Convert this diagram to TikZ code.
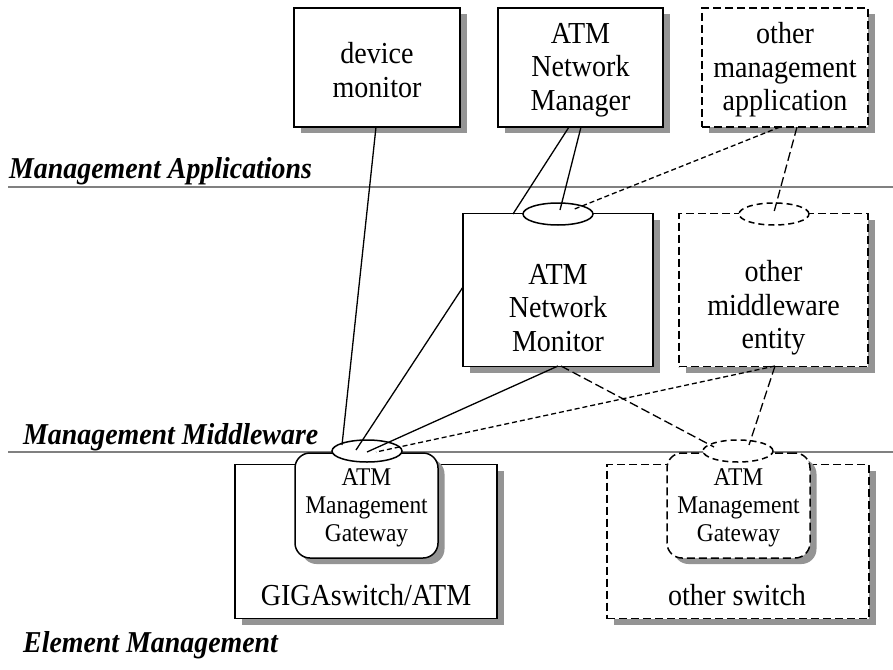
\documentclass[tikz,border=0pt]{standalone}
\usepackage{fontspec}
\setmainfont[FakeStretch=0.92]{Liberation Serif}
\usetikzlibrary{shapes.geometric,shadows}
\begin{document}
\begin{tikzpicture}[x=1pt,y=-1pt,
  shad/.style={drop shadow={shadow xshift=6.5pt,shadow yshift=-6pt,fill=black!42,opacity=1}},
  box/.style={draw,line width=1.5pt,fill=white,inner sep=0pt,shad},
  dbox/.style={box,dash pattern=on 8pt off 4pt},
  oval/.style={ellipse,draw,line width=1.5pt,fill=white,inner sep=0pt,minimum width=70pt,minimum height=22pt},
  doval/.style={oval,dash pattern=on 6pt off 4pt},
  sep/.style={draw=black!50,line width=1.5pt},
  txt/.style={align=center,font=\fontsize{30.5}{33.5}\selectfont,inner sep=0pt},
  gtxt/.style={align=center,font=\fontsize{25.5}{28}\selectfont,inner sep=0pt},
  lbl/.style={anchor=base west,font=\fontsize{30.3}{33}\selectfont\bfseries\itshape,inner sep=0pt},
  con/.style={line width=1.3pt},
  sdash/.style={con,dash pattern=on 5pt off 3pt},
  ldash/.style={con,dash pattern=on 9pt off 4pt}
]
\useasboundingbox[fill=white] (0,0) rectangle (893,669);

% separators
\coordinate (s1a) at (8,187); \coordinate (s1b) at (893,187);
\coordinate (s2a) at (8,452); \coordinate (s2b) at (893,452);
\draw[sep] (s1a) -- (s1b);
\draw[sep] (s2a) -- (s2b);

% layer labels
\node[lbl] (lapp) at (9,178) {Management Applications};
\node[lbl] (lmid) at (23,444) {Management Middleware};
\node[lbl] (lele) at (23,652) {Element Management};

% element layer
\node[box,minimum width=262pt,minimum height=154pt] (gsw) at (366,541.5) {};
\node[dbox,minimum width=262pt,minimum height=154pt] (osw) at (738,541.5) {};
\node[txt] (gswt) at (366,595) {GIGAswitch/ATM};
\node[txt] (oswt) at (737,595) {other switch};
\node[box,rounded corners=15pt,minimum width=143pt,minimum height=105pt] (gw1) at (366.5,505.5) {};
\node[dbox,rounded corners=15pt,minimum width=143pt,minimum height=105pt] (gw2) at (738.5,505.5) {};
\node[gtxt] (gw1t) at (366.5,508) {ATM\\Management\\Gateway};
\node[gtxt] (gw2t) at (738.5,508) {ATM\\Management\\Gateway};

% middleware layer
\node[box,minimum width=190pt,minimum height=153pt] (mon) at (558,290) {};
\node[dbox,minimum width=189pt,minimum height=153pt] (ome) at (773.5,290) {};
\node[txt] (mont) at (558,308) {ATM\\Network\\Monitor};
\node[txt] (omet) at (773.5,308) {other\\middleware\\entity};

% application layer
\node[box,minimum width=166pt,minimum height=119pt] (dm) at (377,67.5) {};
\node[box,minimum width=165pt,minimum height=119pt] (nm) at (580.5,67.5) {};
\node[dbox,minimum width=166pt,minimum height=119pt] (oma) at (785,67.5) {};
\node[txt] (dmt) at (377,70) {device\\monitor};
\node[txt] (nmt) at (580.5,70) {ATM\\Network\\Manager};
\node[txt] (omat) at (785,70) {other\\management\\application};

% interface ovals
\node[oval] (e1) at (558,214) {};
\node[doval] (e2) at (774,214) {};
\node[oval] (e3) at (367,451) {};
\node[doval] (e4) at (738,451) {};

% connector end points
\coordinate (dmB) at (376,127);
\coordinate (nmB1) at (569,127);
\coordinate (nmB2) at (581,127);
\coordinate (omaB1) at (780,127);
\coordinate (omaB2) at (797,127);
\coordinate (monTL) at (513,214);
\coordinate (monL) at (463,287);
\coordinate (monB) at (558,366);
\coordinate (monB2) at (561,366);
\coordinate (omeB) at (775,366);
\coordinate (e1a) at (560,210);
\coordinate (e1b) at (572,210);
\coordinate (e2a) at (774,212);
\coordinate (e3a) at (342,445);
\coordinate (e3b) at (356,450);
\coordinate (e3c) at (367,452);
\coordinate (e3d) at (376,452);
\coordinate (e4a) at (714,447);
\coordinate (e4b) at (749,445);

% connectors
\draw[con] (dmB) -- (e3a);
\draw[con] (nmB1) -- (monTL);
\draw[con] (nmB2) -- (e1a);
\draw[con] (monL) -- (e3b);
\draw[con] (monB) -- (e3c);
\draw[sdash] (omaB1) -- (e1b);
\draw[ldash] (omaB2) -- (e2a);
\draw[sdash] (omeB) -- (e3d);
\draw[ldash] (monB2) -- (e4a);
\draw[ldash] (omeB) -- (e4b);
\end{tikzpicture}
\end{document}
